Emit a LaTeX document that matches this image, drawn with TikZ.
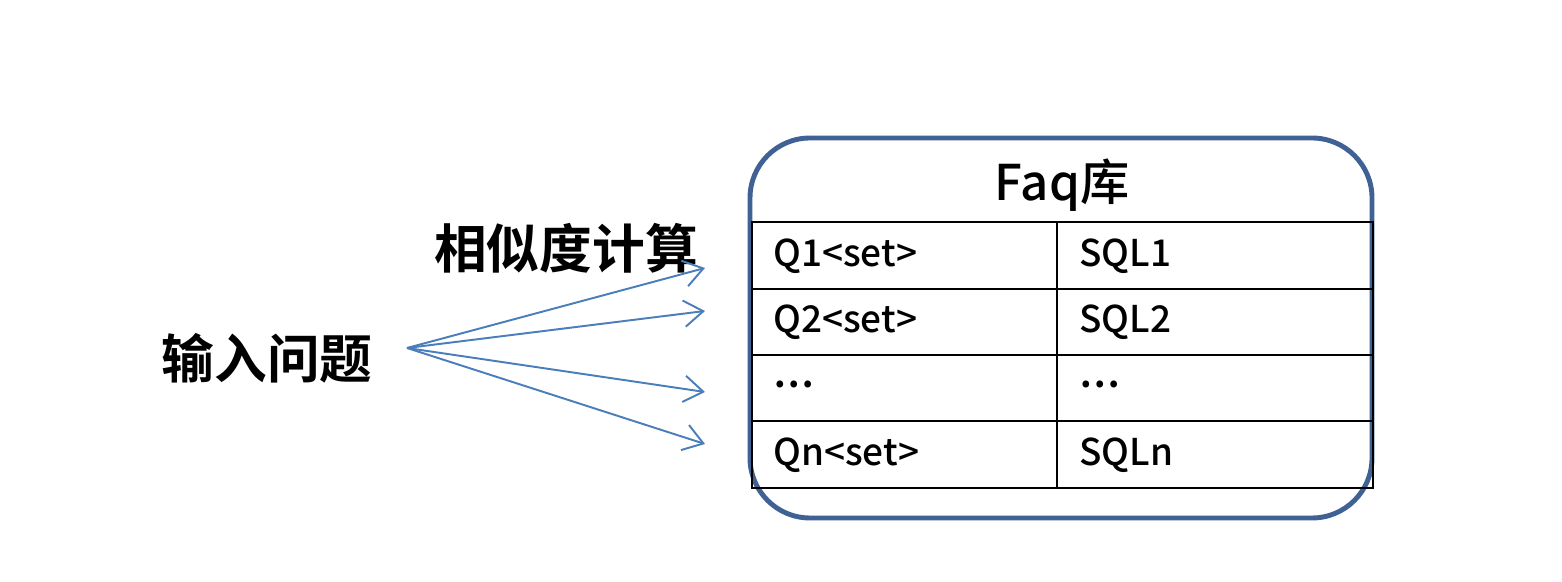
\documentclass[tikz,border=0pt]{standalone}
\usepackage{fontspec}
\usepackage{tikz}
\usetikzlibrary{arrows.meta}
\newfontfamily\cjk[BoldFont={Noto Sans CJK SC Bold}]{Noto Sans CJK SC Medium}
\definecolor{frameblue}{HTML}{3F6193}
\definecolor{arrowblue}{HTML}{4A7EBB}

\begin{document}
\begin{tikzpicture}[x=1cm, y=1cm,
    every node/.style={inner sep=0pt, font=\cjk},
    big/.style={font=\cjk\bfseries\fontsize{30}{30}\selectfont},
    cell/.style={anchor=west, font=\cjk\fontsize{21}{21}\selectfont},
    grid/.style={draw=black, line width=1.6pt},
    sim/.style={-{Straight Barb[length=11pt,width=15pt]}, draw=arrowblue, line width=1.1pt}
 ]
\useasboundingbox (0,0) rectangle (31.24,11.64);

% the faq store
\draw[frameblue, line width=2.8pt, rounded corners=1.2cm] (15.0,1.28) rectangle (27.44,8.88);
\node (title) at (21.24,7.94) {\fontsize{28}{28}\selectfont Faq库};

\draw[grid] (15.04,1.88) rectangle (27.46,7.2);
\foreach \y in {5.86,4.54,3.22}
    \draw[grid] (15.04,\y) -- (27.46,\y);
\draw[grid] (21.14,1.88) -- (21.14,7.2);

\node[cell] (Q1) at (15.46,6.52) {Q1<set>};
\node[cell] (S1) at (21.58,6.52) {SQL1};
\node[cell] (Q2) at (15.46,5.20) {Q2<set>};
\node[cell] (S2) at (21.58,5.20) {SQL2};
\node[cell] (Q3) at (15.46,3.95) {\textbf{\dots}};
\node[cell] (S3) at (21.58,3.95) {\textbf{\dots}};
\node[cell] (Qn) at (15.46,2.54) {Qn<set>};
\node[cell] (Sn) at (21.58,2.54) {SQLn};

% input and similarity
\node[big] (In) at (5.34,4.48) {输入问题};
\node[big] (Sim) at (11.32,6.68) {相似度计算};

\coordinate (src) at (8.14,4.68);
\coordinate (T1) at (14.1,6.28);
\coordinate (T2) at (14.1,5.42);
\coordinate (T3) at (14.1,3.80);
\coordinate (T4) at (14.1,2.76);
\foreach \t in {T1,T2,T3,T4}
    \draw[sim] (src) -- (\t);
\end{tikzpicture}
\end{document}
